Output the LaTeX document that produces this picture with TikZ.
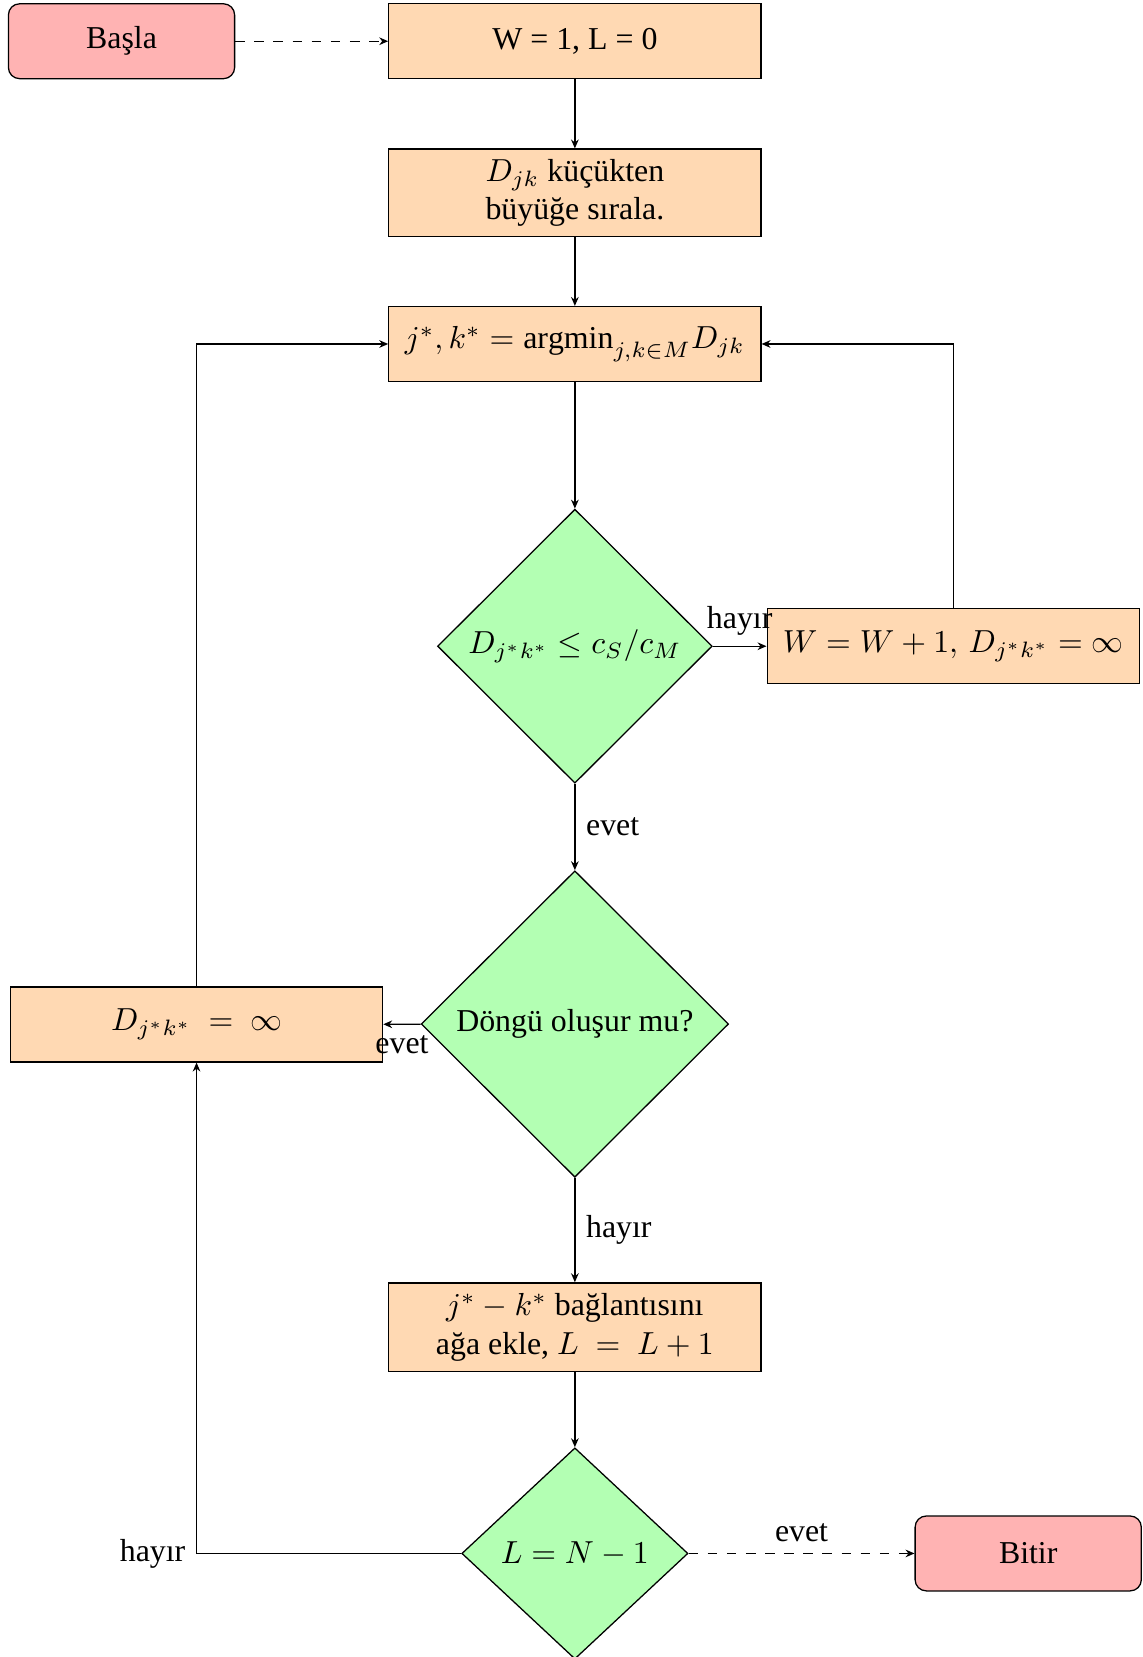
\documentclass[tikz,border=0pt]{standalone}
\usepackage{fontspec}
\setmainfont{Liberation Serif}
\usetikzlibrary{shapes.geometric,arrows.meta}

\definecolor{procfill}{RGB}{255,217,179}
\definecolor{decfill}{RGB}{179,255,179}
\definecolor{termfill}{RGB}{255,179,179}

\tikzset{
  arr/.style={-{Stealth[length=2.8pt,width=2.4pt]}},
  procbox/.style={draw, fill=procfill, rectangle, inner sep=0pt,
    minimum width=116.8pt, minimum height=23.5pt, align=center},
  termbox/.style={draw, fill=termfill, rectangle, rounded corners=3.5pt,
    inner sep=0pt, minimum width=71pt, minimum height=23.5pt},
  decbox/.style={draw, fill=decfill, diamond, inner sep=0pt, align=center},
}

\begin{document}
\begin{tikzpicture}[x=0.3317pt, y=-0.3317pt]
  \path[use as bounding box] (0,0) rectangle (1081,1568);

  % nodes
  \node[termbox] (basla) at (115,39) {Başla};
  \node[procbox] (init) at (544,39) {W = 1, L = 0};
  \node[procbox, minimum height=27.5pt] (sort) at (544,182.5)
    {$D_{jk}$ küçükten\\büyüğe sırala.};
  \node[procbox] (amin) at (544,325.5)
    {$j^*, k^* = \mathrm{argmin}_{j,k\in M} D_{jk}$};
  \node[decbox, minimum width=86.2pt, minimum height=86pt] (d1) at (544,611.5)
    {$D_{j^*k^*} \le c_S/c_M$};
  \node[procbox] (inc) at (902,611.5)
    {$W = W + 1,\, D_{j^*k^*} = \infty$};
  \node[decbox, minimum width=96.5pt, minimum height=96.2pt] (d2) at (544,969)
    {Döngü oluşur mu?};
  \node[procbox] (inf) at (186,969.5) {$D_{j^*k^*}\ =\ \infty$};
  \node[procbox, minimum height=27.9pt] (add) at (544,1256)
    {$j^* - k^*$ bağlantısını\\ağa ekle, $L\ =\ L + 1$};
  \node[decbox, minimum width=71pt, minimum height=66.3pt] (d3) at (544,1470)
    {$L = N - 1$};
  \node[termbox] (bitir) at (973,1470) {Bitir};

  % connectors
  \draw[arr, dashed] (basla) -- (init);
  \draw[arr] (init) -- (sort);
  \draw[arr] (sort) -- (amin);
  \draw[arr] (amin) -- (d1);
  \draw[arr] (d1) -- node[above] {hayır} (inc);
  \draw[arr] (inc.north) |- (amin.east);
  \draw[arr] (d1) -- node[right] {evet} (d2);
  \draw[arr] (d2) -- node[below] {evet} (inf);
  \draw[arr] (inf.north) |- (amin.west);
  \draw[arr] (d2) -- node[right] {hayır} (add);
  \draw[arr] (add) -- (d3);
  \draw[arr] (d3.west) -| node[pos=0.5, left] {hayır} (inf.south);
  \draw[arr, dashed] (d3) -- node[above] {evet} (bitir);
\end{tikzpicture}
\end{document}
